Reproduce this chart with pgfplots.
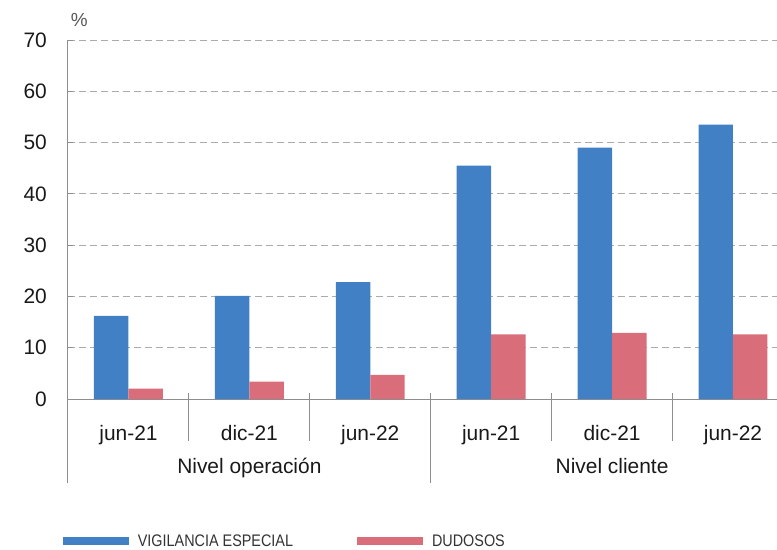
\documentclass[border=0pt]{standalone}
\usepackage{pgfplots}
\pgfplotsset{compat=1.18}
\usepackage{fontspec}
\setmainfont{Liberation Sans}
\newfontfamily\legfont[FakeStretch=0.86]{Liberation Sans}
\definecolor{blueC}{HTML}{4180C4}
\definecolor{redC}{HTML}{D96D79}
\definecolor{gridC}{HTML}{ABABAB}
\definecolor{axisC}{HTML}{8E8E8E}
\begin{document}
\begin{tikzpicture}
\begin{axis}[
  scale only axis, width=709bp, height=359bp,
  xmin=-0.5, xmax=5.364, ymin=0, ymax=70,
  ytick={0,10,...,70},
  xtick={0,...,5},
  xticklabels={jun-21,dic-21,jun-22,jun-21,dic-21,jun-22},
  axis x line*=bottom, axis y line*=left,
  axis line style={axisC, line width=1bp},
  ymajorgrids, grid style={gridC, dash pattern=on 7bp off 4bp, line width=1bp},
  ytick style={axisC, line width=1bp}, tick align=inside, major tick length=5bp,
  xtick style={draw=none},
  ybar=0pt, bar width=0.285,
  clip=false,
  /pgf/number format/assume math mode=true,
  ticklabel style={font=\fontsize{21}{21}\selectfont, text=black!90},
  yticklabel style={anchor=east, inner sep=0pt, xshift=-21bp},
  xticklabel style={anchor=base, inner sep=0pt, yshift=-36bp},
  legend columns=2,
  legend cell align=left,
  legend style={draw=none, fill=none, at={(-0.0075,-0.3955)}, anchor=west,
    font=\legfont\fontsize{16.8}{17}\selectfont, text=black!80, inner sep=0pt,
    nodes={inner sep=0pt},
    /tikz/every odd column/.append style={column sep=9bp},
    /tikz/every even column/.append style={column sep=64bp}},
]
\addplot[fill=blueC, draw=none,
  legend image code/.code={\fill[blueC] (0bp,-4bp) rectangle (66bp,4bp);}]
  coordinates {(0,16.2) (1,20.1) (2,22.8) (3,45.5) (4,49.0) (5,53.5)};
\addlegendentry{VIGILANCIA ESPECIAL}
\addplot[fill=redC, draw=none,
  legend image code/.code={\fill[redC] (0bp,-4bp) rectangle (66bp,4bp);}]
  coordinates {(0,2.0) (1,3.4) (2,4.7) (3,12.6) (4,12.9) (5,12.6)};
\addlegendentry{DUDOSOS}
\draw[axisC, line width=1bp] ([yshift=6bp]axis cs:0.5,0) -- ([yshift=-42bp]axis cs:0.5,0);
\draw[axisC, line width=1bp] ([yshift=6bp]axis cs:1.5,0) -- ([yshift=-42bp]axis cs:1.5,0);
\draw[axisC, line width=1bp] ([yshift=6bp]axis cs:3.5,0) -- ([yshift=-42bp]axis cs:3.5,0);
\draw[axisC, line width=1bp] ([yshift=6bp]axis cs:4.5,0) -- ([yshift=-42bp]axis cs:4.5,0);
\draw[axisC, line width=1bp] ([yshift=6bp]axis cs:2.5,0) -- ([yshift=-84bp]axis cs:2.5,0);
\draw[axisC, line width=1bp] (axis cs:-0.5,0) -- ([yshift=-84bp]axis cs:-0.5,0);
\node[anchor=base, inner sep=0pt, font=\fontsize{21}{21}\selectfont, text=black!90, yshift=-74bp] at (axis cs:1,0) {Nivel operación};
\node[anchor=base, inner sep=0pt, font=\fontsize{21}{21}\selectfont, text=black!90, yshift=-74bp] at (axis cs:4,0) {Nivel cliente};
\node[anchor=base west, inner sep=0pt, font=\fontsize{19}{19}\selectfont, text=black!65, xshift=2.7bp, yshift=13.3bp] at (rel axis cs:0,1) {\%};
\end{axis}
\pgfresetboundingbox
\useasboundingbox (-68bp,-151bp) rectangle (709bp,399bp);
\end{tikzpicture}
\end{document}
